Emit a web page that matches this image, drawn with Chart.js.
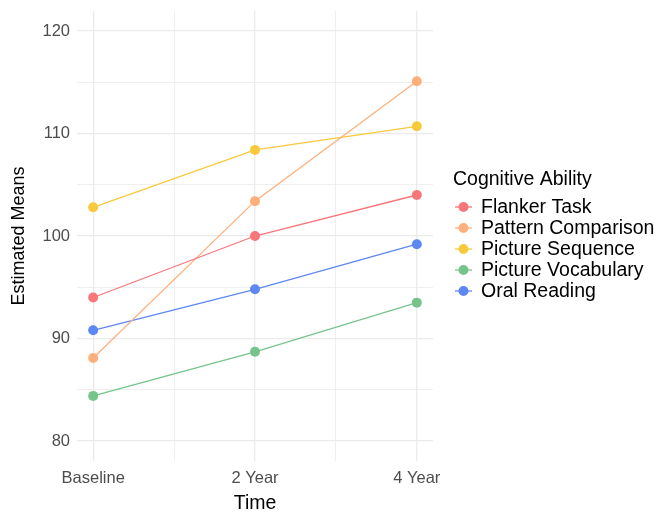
<!DOCTYPE html>
<html lang="en">
<head>
<meta charset="UTF-8">
<title>Cognitive Ability</title>
<script src="https://cdn.jsdelivr.net/npm/chart.js"></script>
<style>
  html, body { margin: 0; padding: 0; background: #fff; }
  #box { width: 656px; height: 513px; }
</style>
</head>
<body>
<div id="box"><canvas id="grafico"></canvas></div>
<script>
// dados
const timeLabels = ['Baseline', '2 Year', '4 Year'];
const timePos = [0, 1, 2];
const abilities = ['Flanker Task', 'Pattern Comparison', 'Picture Sequence', 'Picture Vocabulary', 'Oral Reading'];
const flanker = [94.0, 100.0, 104.0];
const pattern = [88.1, 103.4, 115.1];
const sequence = [102.8, 108.4, 110.7];
const vocabulary = [84.4, 88.7, 93.5];
const oralReading = [90.8, 94.8, 99.2];
const yTicks = [80, 90, 100, 110, 120];

const cores = ['#F8767A', '#FDB07C', '#F9C93C', '#76C48C', '#5D87F2'];
const series = [flanker, pattern, sequence, vocabulary, oralReading];

const FONT = '"Liberation Sans", Arial, Helvetica, sans-serif';

let datasets = series.map(function (vals, i) {
    return {
        label: abilities[i],
        data: vals.map(function (v, j) { return { x: timePos[j], y: v }; }),
        borderColor: cores[i],
        backgroundColor: cores[i],
        borderWidth: 1.3,
        pointRadius: 5,
        pointHoverRadius: 5,
        pointBorderWidth: 0,
        tension: 0
    };
});

// legenda desenhada à mão, no estilo do ggplot
const legendaGG = {
    id: 'legendaGG',
    afterDraw(chart) {
        const ctx = chart.ctx;
        ctx.save();
        ctx.fillStyle = '#000';
        ctx.font = '19.5px ' + FONT;
        ctx.textBaseline = 'middle';
        ctx.textAlign = 'left';
        ctx.fillText('Cognitive Ability', 453, 180);
        chart.data.datasets.forEach(function (ds, i) {
            const y = 207 + i * 21;
            ctx.strokeStyle = ds.borderColor;
            ctx.lineWidth = 1.3;
            ctx.beginPath();
            ctx.moveTo(455, y);
            ctx.lineTo(472, y);
            ctx.stroke();
            ctx.fillStyle = ds.backgroundColor;
            ctx.beginPath();
            ctx.arc(463.5, y, 5, 0, Math.PI * 2);
            ctx.fill();
            ctx.fillStyle = '#000';
            ctx.fillText(ds.label, 481, y + 1);
        });
        ctx.restore();
    }
};

const config = {
    type: 'line',
    data: { datasets: datasets },
    options: {
        responsive: true,
        maintainAspectRatio: false,
        animation: false,
        layout: { padding: { left: 0, right: 223, top: 11, bottom: 0 } },
        plugins: { legend: { display: false }, tooltip: { enabled: false } },
        scales: {
            x: {
                type: 'linear',
                min: -0.1,
                max: 2.1,
                afterBuildTicks: function (scale) {
                    scale.ticks = [0, 0.5, 1, 1.5, 2].map(function (v) { return { value: v }; });
                },
                afterFit: function (scale) {
                    scale.height = 52;
                    scale.paddingLeft = 0;
                    scale.paddingRight = 0;
                },
                border: { display: false },
                grid: {
                    color: '#EBEBEB',
                    lineWidth: function (c) { return Number.isInteger(c.tick.value) ? 1.3 : 0.8; },
                    drawTicks: false
                },
                ticks: {
                    autoSkip: false,
                    maxRotation: 0,
                    padding: 8,
                    color: '#4D4D4D',
                    font: { family: FONT, size: 16.5 },
                    callback: function (v) {
                        const k = timePos.indexOf(v);
                        return k >= 0 ? timeLabels[k] : '';
                    }
                },
                title: {
                    display: true,
                    text: 'Time',
                    color: '#000',
                    font: { family: FONT, size: 19.5, lineHeight: 1.0 },
                    padding: { top: 4, bottom: 0 }
                }
            },
            y: {
                min: 78.05,
                max: 121.95,
                afterBuildTicks: function (scale) {
                    scale.ticks = [80, 85, 90, 95, 100, 105, 110, 115, 120].map(function (v) { return { value: v }; });
                },
                afterFit: function (scale) {
                    scale.width = 77;
                    scale.paddingTop = 0;
                    scale.paddingBottom = 0;
                },
                border: { display: false },
                grid: {
                    color: '#EBEBEB',
                    lineWidth: function (c) { return yTicks.indexOf(c.tick.value) >= 0 ? 1.3 : 0.8; },
                    drawTicks: false
                },
                ticks: {
                    padding: 7,
                    color: '#4D4D4D',
                    font: { family: FONT, size: 16.5 },
                    callback: function (v) { return yTicks.indexOf(v) >= 0 ? String(v) : ''; }
                },
                title: {
                    display: true,
                    text: 'Estimated Means',
                    color: '#000',
                    font: { family: FONT, size: 18 },
                    padding: { top: 8, bottom: 0 }
                }
            }
        }
    },
    plugins: [legendaGG]
};

let myChart = new Chart(document.getElementById('grafico'), config);
</script>
</body>
</html>
